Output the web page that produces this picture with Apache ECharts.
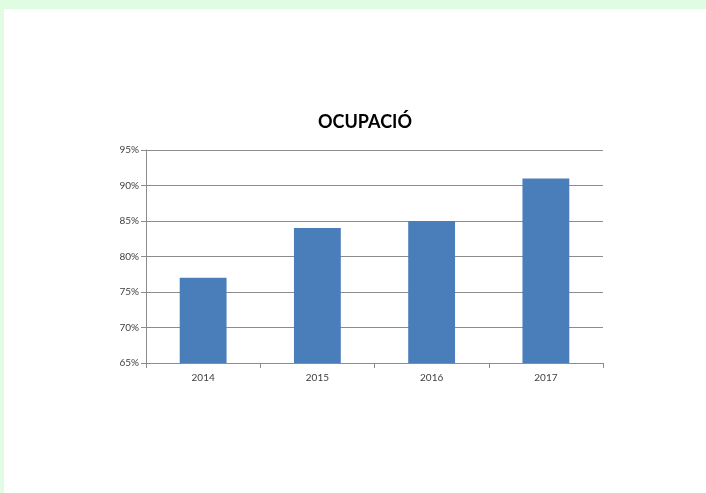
<!DOCTYPE html>
<html>
<head>
<meta charset="utf-8">
<script src="https://cdn.jsdelivr.net/npm/echarts@6/dist/echarts.min.js"></script>
<style>
  html, body { margin: 0; padding: 0; width: 706px; height: 493px; background: #e0fde4; overflow: hidden; }
  #chart { position: absolute; left: 4px; top: 9px; width: 702px; height: 484px; background: #ffffff; }
</style>
</head>
<body>
<div id="chart"></div>
<script>
// Occupancy rate per year (percent)
const years = ['2014', '2015', '2016', '2017'];
const occupancy = [77, 84, 85, 91];
const chartTitle = 'OCUPACIÓ';

const chart = echarts.init(document.getElementById('chart'), null, { renderer: 'canvas' });
const labelFont = { fontFamily: 'Lato, "Open Sans", sans-serif', fontSize: 10, color: '#404040' };

chart.setOption({
  animation: false,
  backgroundColor: '#ffffff',
  title: {
    text: chartTitle,
    left: 356,
    top: 99,
    textAlign: 'center',
    textStyle: { fontFamily: 'Lato, "Open Sans", sans-serif', fontWeight: 'bold', fontSize: 18, color: '#000000' }
  },
  grid: { left: 142, right: 103, top: 141, bottom: 130 },
  xAxis: {
    type: 'category',
    data: years,
    axisLine: { lineStyle: { color: '#8c8c8c', width: 1 } },
    axisTick: { show: true, alignWithLabel: false, length: 5, lineStyle: { color: '#8c8c8c' } },
    axisLabel: Object.assign({ margin: 10 }, labelFont),
    splitLine: { show: false }
  },
  yAxis: {
    type: 'value',
    min: 65,
    max: 95,
    interval: 5,
    axisLine: { show: true, lineStyle: { color: '#8c8c8c', width: 1 } },
    axisTick: { show: true, length: 5, lineStyle: { color: '#8c8c8c' } },
    axisLabel: Object.assign({ margin: 7, formatter: '{value}%' }, labelFont),
    splitLine: { show: true, lineStyle: { color: '#8c8c8c', width: 1 } }
  },
  series: [{
    type: 'bar',
    data: occupancy,
    barWidth: '41%',
    itemStyle: { color: '#4a7ebb' }
  }]
});
</script>
</body>
</html>
